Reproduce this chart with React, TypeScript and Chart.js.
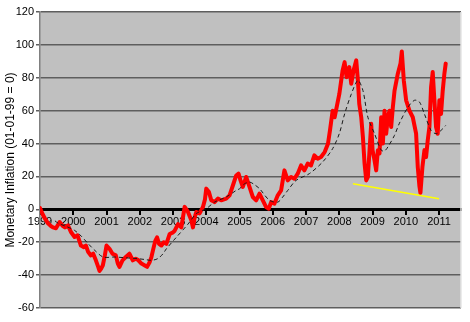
import React, { useEffect, useRef } from "react";
import { Chart, registerables } from "chart.js";

Chart.register(...registerables);

const xTickYears = [1999, 2000, 2001, 2002, 2003, 2004, 2005, 2006, 2007, 2008, 2009, 2010, 2011];
const xTickLabels = ["1999", "2000", "2001", "2002", "2003", "2004", "2005", "2006", "2007", "2008", "2009", "2010", "2011"];

const redYears = [
  1999.0, 1999.08, 1999.16, 1999.24, 1999.32, 1999.39, 1999.48, 1999.59, 1999.68, 1999.75, 1999.84, 1999.93,
  2000.04, 2000.13, 2000.23, 2000.32, 2000.38, 2000.45, 2000.53, 2000.6, 2000.68, 2000.75, 2000.79, 2000.84, 2000.89, 2000.95,
  2001.0, 2001.09, 2001.18, 2001.28, 2001.34, 2001.39, 2001.48, 2001.58, 2001.69, 2001.79, 2001.88, 2001.96,
  2002.05, 2002.14, 2002.22, 2002.3, 2002.35, 2002.42, 2002.47, 2002.52, 2002.58, 2002.65, 2002.72, 2002.8, 2002.9,
  2003.0, 2003.05, 2003.15, 2003.25, 2003.35, 2003.45, 2003.55, 2003.6, 2003.65, 2003.7, 2003.8, 2003.9, 2003.96,
  2004.0, 2004.08, 2004.15, 2004.25, 2004.35, 2004.45, 2004.6, 2004.7, 2004.8, 2004.9, 2004.97,
  2005.03, 2005.1, 2005.2, 2005.3, 2005.4, 2005.5, 2005.6, 2005.7, 2005.8, 2005.88, 2005.95,
  2006.05, 2006.15, 2006.25, 2006.35, 2006.45, 2006.55, 2006.65, 2006.75, 2006.85, 2006.95,
  2007.05, 2007.15, 2007.25, 2007.35, 2007.45, 2007.56, 2007.66, 2007.72, 2007.8, 2007.86, 2007.95,
  2008.0, 2008.1, 2008.16, 2008.22, 2008.3, 2008.36, 2008.43, 2008.51, 2008.56, 2008.6, 2008.66, 2008.71, 2008.76, 2008.81, 2008.86, 2008.91, 2008.96,
  2009.0, 2009.06, 2009.11, 2009.16, 2009.21, 2009.26, 2009.31, 2009.36, 2009.41, 2009.46, 2009.51, 2009.56, 2009.61, 2009.66, 2009.76, 2009.84, 2009.88, 2009.94,
  2010.01, 2010.11, 2010.21, 2010.31, 2010.36, 2010.41, 2010.44, 2010.5, 2010.56, 2010.61, 2010.66, 2010.71, 2010.76, 2010.81, 2010.86, 2010.91, 2010.96,
  2011.01, 2011.06, 2011.11, 2011.16, 2011.2,
];
const redValues = [
  0.8, -3, -6, -8.5, -10, -11, -11.5, -7.7, -10, -11, -9.7, -13.8,
  -16.8, -15.8, -22, -23, -22, -26, -28, -27, -31, -35, -37.5, -36, -34, -28,
  -22, -24, -27, -28, -33, -35, -31, -29, -27, -31, -30, -31,
  -33, -34, -35, -32, -29, -23, -19, -17, -21, -22, -20, -21, -15,
  -14, -13, -9, -11, 1.5, -1.6, -6.7, -11, -5, -1.6, -2.5, 1.4, 6,
  12.6, 10.5, 5.5, 4.4, 6.5, 5.5, 6.5, 8.5, 14.5, 20.6, 21.7,
  17.6, 13.6, 19.7, 13.6, 7.5, 5.5, 9.5, 5.5, 1.4, 0.4, 4.4,
  3.5, 8.5, 11.5, 23.7, 17.6, 19.7, 18.6, 21.7, 26.7, 23.7,
  27.8, 26.7, 32.8, 30.8, 31.8, 34.8, 39.9, 48, 60, 56, 65,
  70, 84.5, 89.5, 80.4, 86.5, 76.4, 84.5, 90.6, 78.4, 64.2, 56, 44, 27.8, 17.6, 19.7, 36, 52,
  36, 29.8, 23.7, 36, 34, 56, 40, 60, 46, 56, 60, 50, 62, 72, 82.5, 88.6, 96, 78.4,
  66.3, 60, 56, 46, 25.7, 14, 10, 25.7, 36, 31.8, 42, 50, 74.3, 83.5, 66.3, 50, 46,
  66.3, 58, 72, 82.5, 88.6,
];

const avgYears = [
  1999.45, 1999.55, 1999.8, 2000.04, 2000.25, 2000.44, 2000.65, 2000.9, 2001.24, 2001.6, 2001.94, 2002.15, 2002.35, 2002.54,
  2002.7, 2002.8, 2003.1, 2003.45, 2003.7, 2004.0, 2004.25, 2004.6, 2004.9, 2005.0, 2005.15, 2005.3, 2005.45, 2005.6, 2005.9,
  2006.15, 2006.3, 2006.45, 2006.7, 2007.1, 2007.5, 2007.8, 2008.0, 2008.16, 2008.36, 2008.56, 2008.71, 2008.86, 2009.06,
  2009.26, 2009.36, 2009.46, 2009.66, 2009.8, 2010.06, 2010.26, 2010.41, 2010.56, 2010.76, 2010.91, 2011.06, 2011.2,
];
const avgValues = [
  -7, -8.5, -10.5, -12.8, -16.5, -20.7, -25, -29, -29, -29.5, -30, -30.5, -31, -30,
  -27, -24, -17, -9, -2.6, 0.4, 4.4, 7.5, 11.5, 12.5, 15.5, 16.6, 15, 12.6, 5.5,
  4.4, 7.5, 11.5, 17.6, 21.7, 28.8, 36.9, 46, 58, 70, 78.4, 72.3, 56, 46,
  36, 35.5, 37.9, 45, 52, 62, 66.3, 65.3, 58, 48, 46, 48, 51,
];

const trendYears = [2008.41, 2011.0];
const trendValues = [15.6, 6.5];

const FONT = "'Liberation Sans', Arial, sans-serif";

const plotBg = {
  id: "plotBg",
  beforeDraw(chart: any) {
    const { ctx, chartArea } = chart;
    ctx.save();
    ctx.fillStyle = "#c0c0c0";
    ctx.fillRect(chartArea.left, chartArea.top, chartArea.right - chartArea.left, chartArea.bottom - chartArea.top);
    ctx.restore();
  },
  afterDraw(chart: any) {
    const { ctx, chartArea } = chart;
    ctx.save();
    ctx.strokeStyle = "#e4e4e4";
    ctx.lineWidth = 1.5;
    ctx.beginPath();
    ctx.moveTo(chartArea.right, chartArea.top);
    ctx.lineTo(chartArea.right, chartArea.bottom);
    ctx.stroke();
    ctx.restore();
  },
};

export default function App() {
  const ref = useRef<HTMLCanvasElement | null>(null);
  useEffect(() => {
    if (!ref.current) return;
    const chart = new Chart(ref.current, {
      type: "line",
      data: {
        datasets: [
          {
            data: avgYears.map((x, i) => ({ x, y: avgValues[i] })),
            borderColor: "#1a1a1a",
            borderWidth: 1,
            borderDash: [4, 3],
            pointRadius: 0,
            tension: 0.3,
          },
          {
            data: trendYears.map((x, i) => ({ x, y: trendValues[i] })),
            borderColor: "#ffff00",
            borderWidth: 1.5,
            pointRadius: 0,
          },
          {
            data: redYears.map((x, i) => ({ x, y: redValues[i] })),
            borderColor: "#ff0000",
            borderWidth: 4,
            borderJoinStyle: "round",
            borderCapStyle: "round",
            pointRadius: 0,
            tension: 0,
          },
        ],
      },
      options: {
        animation: false,
        responsive: false,
        events: [],
        layout: { padding: { left: 0, top: 12, right: 9, bottom: 14 } },
        plugins: { legend: { display: false }, tooltip: { enabled: false } },
        scales: {
          x: {
            type: "linear",
            min: 1999,
            max: 2011.66,
            position: { y: 0 },
            afterBuildTicks: (scale: any) => {
              scale.ticks = xTickYears.map((v) => ({ value: v }));
            },
            afterFit: (scale: any) => {
              scale.height = 0;
            },
            ticks: {
              autoSkip: false,
              maxRotation: 0,
              padding: 2,
              color: "#000",
              font: { family: FONT, size: 11 },
              callback: (v: any) => {
                const i = xTickYears.indexOf(Number(v));
                return i >= 0 ? xTickLabels[i] : "";
              },
            },
            grid: { drawOnChartArea: false, drawTicks: true, tickLength: 4, color: "#000", lineWidth: 2 },
            border: { display: true, color: "#000", width: 3 },
          },
          y: {
            min: -60,
            max: 120,
            afterFit: (scale: any) => {
              scale.width = 40;
            },
            ticks: { stepSize: 20, padding: 2, color: "#000", font: { family: FONT, size: 11 } },
            grid: { color: "#5e5e5e", lineWidth: 1.5, tickLength: 4, drawTicks: true },
            border: { display: true, color: "#808080", width: 1.5 },
            title: {
              display: true,
              text: "Monetary Inflation (01-01-99 = 0)",
              color: "#000",
              font: { family: FONT, size: 12 },
              padding: { top: 3, bottom: 0 },
            },
          },
        },
      },
      plugins: [plotBg],
    });
    return () => chart.destroy();
  }, []);
  return (
    <div style={{ position: "absolute", left: 0, top: 0, width: 470, height: 322, background: "#fff" }}>
      <canvas ref={ref} width={470} height={322} />
    </div>
  );
}
